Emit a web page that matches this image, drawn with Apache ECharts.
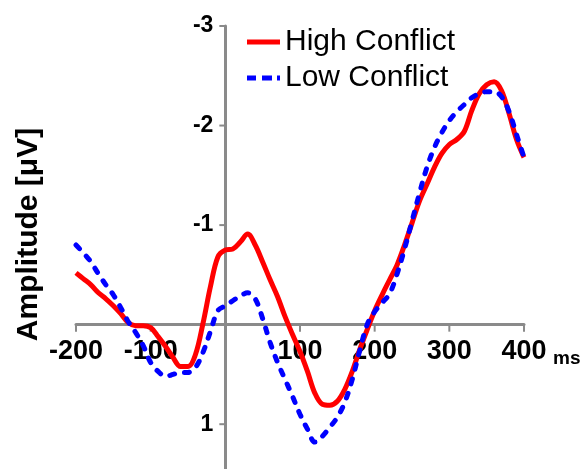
<!DOCTYPE html>
<html>
<head>
<meta charset="utf-8">
<script src="https://cdn.jsdelivr.net/npm/echarts@6/dist/echarts.min.js"></script>
<style>
html,body{margin:0;padding:0;background:#fff;}
#chart{width:586px;height:469px;}
</style>
</head>
<body>
<div id="chart"></div>
<script>
var times = [-200,-190,-180,-170,-160,-150,-140,-130,-120,-110,-100,-90,-80,-70,-60,-50,-40,-30,-20,-10,
  0,10,20,30,40,50,60,70,80,90,100,110,120,130,140,150,160,170,180,190,200,210,220,230,240,250,260,270,280,290,
  300,310,320,330,340,350,360,370,380,390,400];
var highConflict = [-0.52,-0.46,-0.40,-0.32,-0.26,-0.19,-0.11,-0.02,0.01,0.01,0.03,0.12,0.22,0.33,0.42,0.42,0.30,-0.01,-0.38,-0.68,
  -0.75,-0.76,-0.83,-0.91,-0.80,-0.63,-0.45,-0.28,-0.08,0.10,0.27,0.47,0.69,0.80,0.81,0.77,0.65,0.47,0.25,0.05,
  -0.14,-0.30,-0.45,-0.60,-0.80,-1.02,-1.24,-1.41,-1.58,-1.72,-1.81,-1.86,-1.94,-2.15,-2.32,-2.41,-2.44,-2.35,-2.12,-1.86,-1.68];
var lowConflict = [-0.80,-0.72,-0.63,-0.51,-0.40,-0.30,-0.17,-0.03,0.08,0.21,0.38,0.47,0.52,0.50,0.48,0.48,0.43,0.28,0.07,-0.14,
  -0.19,-0.24,-0.29,-0.32,-0.26,-0.06,0.18,0.38,0.55,0.72,0.90,1.05,1.18,1.12,1.03,0.93,0.78,0.55,0.26,0.00,
  -0.13,-0.22,-0.31,-0.51,-0.76,-1.04,-1.32,-1.58,-1.78,-1.93,-2.05,-2.14,-2.21,-2.28,-2.32,-2.34,-2.34,-2.29,-2.14,-1.91,-1.68];
var xTicks = [-200,-100,0,100,200,300,400];
var yTicks = [-3,-2,-1,0,1];
var seriesNames = ['High Conflict','Low Conflict'];

function pairs(vals){ return times.map(function(t,i){ return [t, vals[i]]; }); }

var axisGray = '#8a8a8a';
var labelFont = 'Liberation Sans, Arial, sans-serif';
var xLabelData = xTicks.filter(function(t){ return t!==0; }).map(function(t){ return [t,0]; });
var yLabelData = yTicks.filter(function(v){ return v!==0; }).map(function(v){ return [0,v]; });

var chart = echarts.init(document.getElementById('chart'), null, {renderer:'canvas'});
chart.setOption({
  backgroundColor:'#ffffff',
  animation:false,
  grid:{left:76,right:62,top:26,bottom:0,containLabel:false,outerBoundsMode:'none'},
  legend:{
    orient:'vertical', left:247, top:27, padding:0, itemWidth:33, itemHeight:5, itemGap:6,
    textStyle:{fontFamily:labelFont, fontSize:30, color:'#000', lineHeight:30, padding:[0,0,0,0]},
    data:[
      {name:seriesNames[0], icon:'path://M0,0H33V5H0Z', itemStyle:{color:'#ff0000'}},
      {name:seriesNames[1], icon:'path://M0,0H9V5H0Z M15,0H25V5H15Z M30,0H33V5H30Z', itemStyle:{color:'#0000ff'}}
    ]
  },
  xAxis:{
    type:'value', min:xTicks[0], max:xTicks[xTicks.length-1], interval:100,
    name:'ms', nameLocation:'end', nameGap:29,
    nameTextStyle:{fontFamily:labelFont, fontSize:19, fontWeight:'bold', color:'#000', verticalAlign:'top', padding:[25,0,0,0]},
    axisLine:{onZero:true, lineStyle:{color:axisGray,width:3}},
    axisTick:{show:false},
    axisLabel:{show:false},
    splitLine:{show:false}
  },
  yAxis:{
    type:'value', inverse:true, min:yTicks[0], max:1.45, interval:1,
    axisLine:{onZero:true, lineStyle:{color:axisGray,width:3}},
    axisTick:{show:false},
    axisLabel:{show:false},
    splitLine:{show:false}
  },
  graphic:[{
    type:'text', left:14, top:'middle', rotation:Math.PI/2,
    style:{text:'Amplitude [\u03bcV]', font:'bold 30px "Liberation Sans", Arial, sans-serif', fill:'#000'}
  }],
  series:[
    {type:'scatter', name:'xlabels', data:xLabelData, symbolSize:0, silent:true, z:1, itemStyle:{opacity:1},
     label:{show:true, position:'bottom', distance:13, fontFamily:labelFont, fontSize:27, fontWeight:'bold', color:'#000', opacity:1,
       formatter:function(p){ return String(p.value[0]); }}},
    {type:'scatter', name:'ylabels', data:yLabelData, symbolSize:0, silent:true, z:1, itemStyle:{opacity:1},
     label:{show:true, position:'left', distance:12, fontFamily:labelFont, fontSize:23, fontWeight:'bold', color:'#000', opacity:1,
       formatter:function(p){ return String(p.value[1]); }}},
    {type:'scatter', name:'xticks', data:xTicks.map(function(t){ return [t,0]; }), symbol:'rect', symbolSize:[2,7], symbolOffset:[0,3.5],
     itemStyle:{color:axisGray, opacity:1}, silent:true, z:1},
    {type:'scatter', name:'yticks', data:yTicks.filter(function(v){return v!==0;}).map(function(v){ return [0,v]; }), symbol:'rect', symbolSize:[6,2], symbolOffset:[-3,0],
     itemStyle:{color:axisGray, opacity:1}, silent:true, z:1},
    {name:seriesNames[0], type:'line', data:pairs(highConflict), smooth:0.35, symbol:'none', z:5,
     lineStyle:{color:'#ff0000', width:5}, itemStyle:{color:'#ff0000'}},
    {name:seriesNames[1], type:'line', data:pairs(lowConflict), smooth:0.35, symbol:'none', z:6,
     lineStyle:{color:'#0000ff', width:5, type:[5,10], cap:'round'}, itemStyle:{color:'#0000ff'}}
  ]
});
</script>
</body>
</html>
